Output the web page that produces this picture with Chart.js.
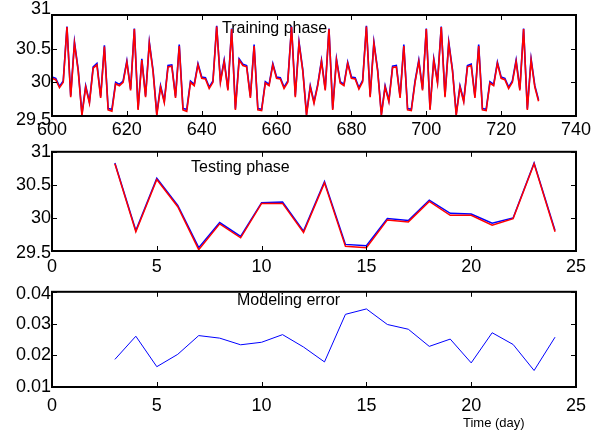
<!DOCTYPE html>
<html><head><meta charset="utf-8">
<script src="https://cdn.jsdelivr.net/npm/chart.js@4.4.0/dist/chart.umd.min.js"></script>
<style>
html,body{margin:0;padding:0;background:#fff;}
#wrap{position:relative;width:605px;height:430px;overflow:hidden;background:#fff;}
canvas{position:absolute;left:0;}
</style></head><body>
<div id="wrap">
<canvas id="c1" width="605" height="140" style="top:0px"></canvas>
<canvas id="c2" width="605" height="140" style="top:140px"></canvas>
<canvas id="c3" width="605" height="150" style="top:280px"></canvas>
</div>
<script>
// ---------- DATA ----------
const trainDays = [600,601,602,603,604,605,606,607,608,609,610,611,612,613,614,615,616,617,618,619,
 620,621,622,623,624,625,626,627,628,629,630,631,632,633,634,635,636,637,638,639,
 640,641,642,643,644,645,646,647,648,649,650,651,652,653,654,655,656,657,658,659,
 660,661,662,663,664,665,666,667,668,669,670,671,672,673,674,675,676,677,678,679,
 680,681,682,683,684,685,686,687,688,689,690,691,692,693,694,695,696,697,698,699,
 700,701,702,703,704,705,706,707,708,709,710,711,712,713,714,715,716,717,718,719,
 720,721,722,723,724,725,726,727,728,729,730];
const trainActual = [30.08,30.06,29.94,30.02,30.83,29.80,30.60,30.19,29.53,29.95,
 29.71,30.23,30.28,29.79,30.55,29.61,29.60,30.00,29.97,30.02,
 30.32,29.90,30.80,29.61,30.35,29.80,30.60,30.18,29.53,29.95,
 29.72,30.25,30.26,29.79,30.56,29.61,29.60,30.02,29.97,30.28,
 30.08,30.07,29.93,30.02,30.84,30.02,30.33,29.90,30.80,29.61,
 30.35,30.27,30.25,29.79,30.56,29.61,29.60,30.01,29.97,30.28,
 30.08,30.07,29.93,30.02,30.83,29.80,30.60,30.19,29.53,29.95,
 29.71,29.97,30.33,29.90,30.80,29.61,30.35,30.01,29.97,30.30,
 30.08,30.07,29.92,30.03,30.84,29.80,30.60,30.19,29.53,29.95,
 29.73,30.24,30.25,29.79,30.56,29.61,29.60,30.02,30.33,29.90,
 30.80,29.61,30.35,30.01,30.83,29.80,30.60,30.19,29.53,29.95,
 29.73,30.25,30.27,29.79,30.56,29.61,29.60,30.01,29.97,30.30,
 30.08,30.06,29.93,30.02,30.33,29.90,30.80,29.61,30.35,29.95,
 29.74];
const trainModel = [30.06,30.04,29.92,30.00,30.82,29.78,30.58,30.17,29.51,29.93,
 29.69,30.21,30.26,29.77,30.53,29.59,29.57,29.98,29.95,30.00,
 30.30,29.88,30.79,29.59,30.33,29.78,30.58,30.16,29.51,29.93,
 29.70,30.23,30.24,29.77,30.54,29.59,29.57,30.00,29.95,30.26,
 30.06,30.05,29.91,30.00,30.83,30.00,30.31,29.88,30.79,29.59,
 30.33,30.25,30.23,29.77,30.54,29.59,29.58,29.99,29.95,30.26,
 30.06,30.05,29.91,30.00,30.82,29.78,30.58,30.17,29.51,29.93,
 29.69,29.95,30.31,29.88,30.79,29.59,30.33,29.99,29.95,30.28,
 30.06,30.05,29.90,30.01,30.83,29.78,30.58,30.17,29.51,29.93,
 29.71,30.22,30.23,29.77,30.54,29.59,29.58,30.00,30.31,29.88,
 30.79,29.59,30.33,29.99,30.82,29.78,30.58,30.17,29.51,29.93,
 29.71,30.23,30.25,29.77,30.54,29.59,29.58,29.99,29.95,30.28,
 30.06,30.04,29.91,30.00,30.31,29.88,30.79,29.59,30.33,29.93,
 29.72];

const testDays   = [3,4,5,6,7,8,9,10,11,12,13,14,15,16,17,18,19,20,21,22,23,24];
const testActual = [30.83,29.81,30.60,30.19,29.55,29.93,29.72,30.23,30.24,29.80,30.55,
                    29.60,29.58,29.99,29.96,30.27,30.07,30.06,29.92,30.00,30.83,29.81];
const testModel  = [30.82,29.79,30.58,30.17,29.52,29.91,29.70,30.22,30.22,29.78,30.53,
                    29.57,29.55,29.97,29.94,30.25,30.04,30.04,29.89,29.99,30.82,29.79];
const errorValues = [0.0187,0.0260,0.0164,0.0203,0.0262,0.0254,0.0233,0.0241,0.0265,0.0226,0.0179,
                     0.0329,0.0346,0.0297,0.0282,0.0228,0.0251,0.0176,0.0271,0.0234,0.0152,0.0257];

const trainXTicks = [600,620,640,660,680,700,720,740];
const tempYTicks  = [29.5,30,30.5,31];
const dayXTicks   = [0,5,10,15,20,25];
const errYTicks   = [0.01,0.02,0.03,0.04];
const panelTitles = ['Training phase','Testing phase','Modeling error'];
const xAxisTitle  = 'Time (day)';

// ---------- HELPERS ----------
const FONT = '"Liberation Sans", Arial, Helvetica, sans-serif';
Chart.defaults.animation = false;
Chart.defaults.font.family = FONT;

function pts(xs, ys){ return xs.map((x,i)=>({x:x, y:ys[i]})); }

function decoPlugin(o){
  return {
    id:'deco',
    beforeDatasetsDraw(chart){
      const ctx = chart.ctx;
      ctx.save();
      ctx.font = '16px ' + FONT;
      ctx.fillStyle = '#000';
      ctx.textAlign = 'left';
      ctx.textBaseline = 'alphabetic';
      ctx.fillText(o.title, o.tx, o.ty);
      if (o.xtitle) {
        ctx.font = '13px ' + FONT;
        ctx.fillText(o.xtitle, o.xtx, o.xty);
      }
      ctx.restore();
    },
    afterDatasetsDraw(chart){
      const ctx = chart.ctx, a = chart.chartArea, x = chart.scales.x, y = chart.scales.y;
      ctx.save();
      ctx.strokeStyle = '#000';
      ctx.lineWidth = 1;
      const L = 5;
      ctx.beginPath();
      x.ticks.forEach(t=>{
        const p = Math.round(x.getPixelForValue(t.value)) + 0.5;
        ctx.moveTo(p, a.bottom); ctx.lineTo(p, a.bottom - L);
        ctx.moveTo(p, a.top);    ctx.lineTo(p, a.top + L);
      });
      y.ticks.forEach(t=>{
        const p = Math.round(y.getPixelForValue(t.value)) + 0.5;
        ctx.moveTo(a.left, p);  ctx.lineTo(a.left + L, p);
        ctx.moveTo(a.right, p); ctx.lineTo(a.right - L, p);
      });
      ctx.stroke();
      ctx.lineWidth = 2;
      ctx.strokeRect(a.left, a.top, a.right - a.left, a.bottom - a.top);
      ctx.restore();
    }
  };
}

function shiftPlugin(shifts){
  return {
    id:'shiftY',
    beforeDraw(chart){
      const s = chart.scales.y;
      const items = s.getLabelItems();
      if (items._shifted) return;
      items._shifted = true;
      items.forEach(it=>{
        const d = shifts[it.label];
        if (d != null && it.options && it.options.translation) it.options.translation[1] += d;
      });
    }
  };
}

function makeChart(id, cfg){
  return new Chart(document.getElementById(id), {
    type:'line',
    data:{ datasets: cfg.datasets },
    options:{
      responsive:false,
      maintainAspectRatio:false,
      layout:{ padding:{ left:0, right:29, top:cfg.padTop, bottom:0 } },
      plugins:{ legend:{display:false}, tooltip:{enabled:false} },
      elements:{ point:{ radius:0 }, line:{ tension:0 } },
      scales:{
        x:{
          type:'linear', min:cfg.xTicks[0], max:cfg.xTicks[cfg.xTicks.length-1],
          afterBuildTicks(s){ s.ticks = cfg.xTicks.map(v=>({value:v})); },
          afterFit(s){ s.height = cfg.xH; },
          grid:{ display:false, drawTicks:false },
          border:{ display:false },
          ticks:{ color:'#000', font:{ size:18, family:FONT }, padding:cfg.xPad, maxRotation:0, autoSkip:false,
                  callback:v=>String(v) }
        },
        y:{
          type:'linear', min:cfg.yTicks[0], max:cfg.yTicks[cfg.yTicks.length-1],
          afterBuildTicks(s){ s.ticks = cfg.yTicks.map(v=>({value:v})); },
          afterFit(s){ s.width = 52; },
          grid:{ display:false, drawTicks:false },
          border:{ display:false },
          ticks:{ color:'#000', font:{ size:18, family:FONT }, padding:1, autoSkip:false,
                  callback:v=>String(v) }
        }
      }
    },
    plugins:[decoPlugin(cfg.deco), shiftPlugin(cfg.shifts || {})]
  });
}

// ---------- CHARTS ----------
makeChart('c1', {
  padTop:15, xH:24, xPad:3, xTicks:trainXTicks, yTicks:tempYTicks,
  shifts:{ '31':-6, '29.5':4 },
  deco:{ title:panelTitles[0], tx:222, ty:33 },
  datasets:[
    { data:pts(trainDays, trainModel),  borderColor:'#ff0000', borderWidth:1.6, fill:false },
    { data:pts(trainDays, trainActual), borderColor:'#0000ff', borderWidth:1.6, fill:false }
  ]
});

makeChart('c2', {
  padTop:10, xH:29, xPad:5, xTicks:dayXTicks, yTicks:tempYTicks,
  shifts:{ '29.5':2 },
  deco:{ title:panelTitles[1], tx:191, ty:32 },
  datasets:[
    { data:pts(testDays, testModel),  borderColor:'#ff0000', borderWidth:1.5, fill:false },
    { data:pts(testDays, testActual), borderColor:'#0000ff', borderWidth:1.5, fill:false }
  ]
});

makeChart('c3', {
  padTop:5, xH:43, xPad:8, xTicks:dayXTicks, yTicks:errYTicks,
  shifts:{ '0.04':2 },
  deco:{ title:panelTitles[2], tx:237, ty:25, xtitle:xAxisTitle, xtx:463, xty:147 },
  datasets:[
    { data:pts(testDays, errorValues), borderColor:'#0000ff', borderWidth:1, fill:false }
  ]
});
</script>
</body></html>
